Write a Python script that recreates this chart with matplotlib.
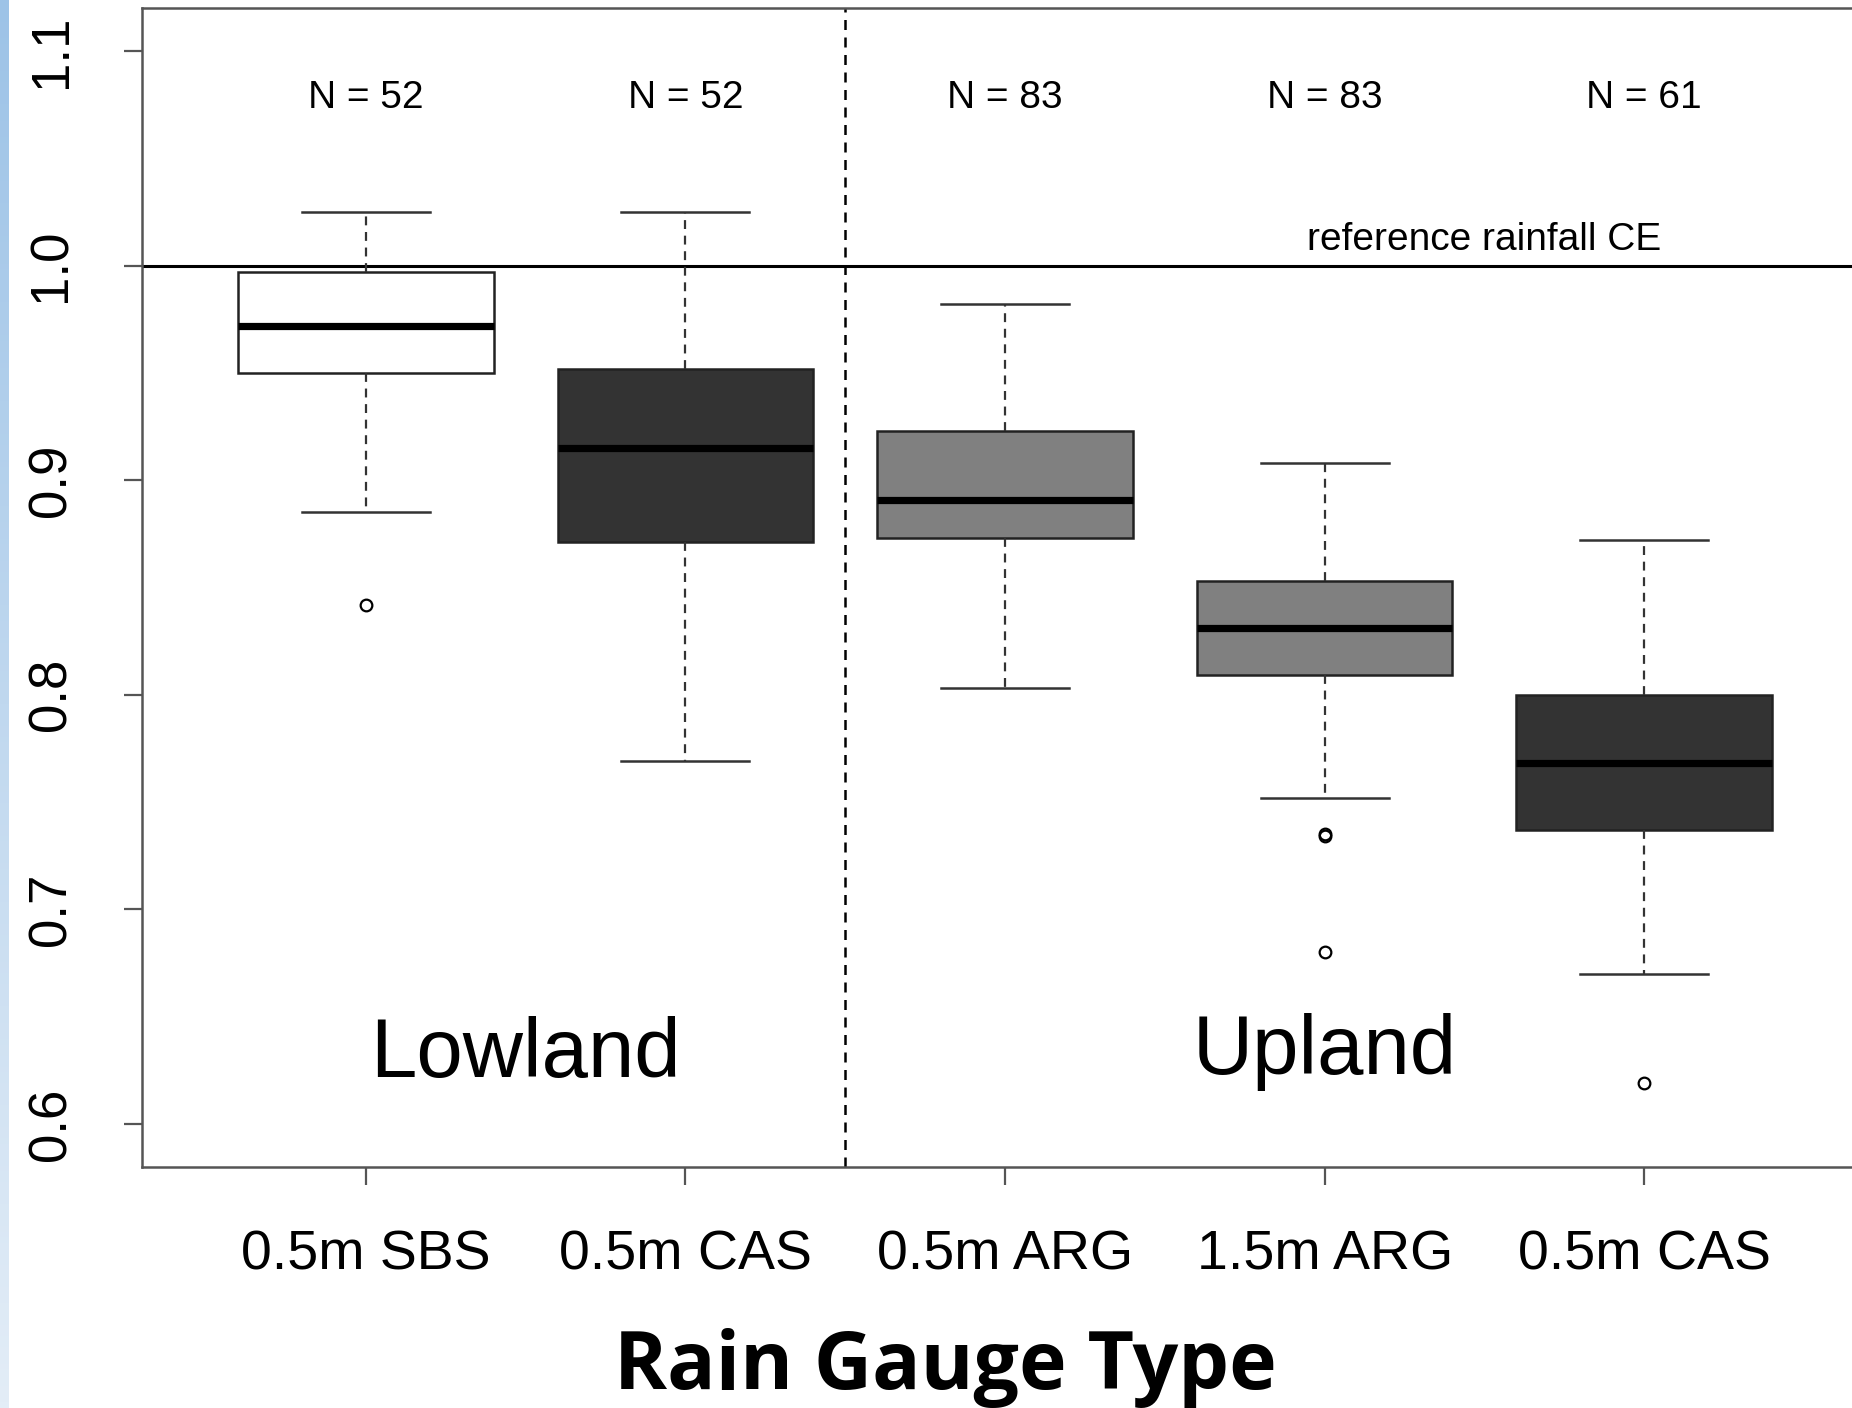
import numpy as np
import matplotlib
matplotlib.use("Agg")
import matplotlib.pyplot as plt

# ── 데이터 ──────────────────────────────────────────
gauges   = ["0.5m SBS", "0.5m CAS", "0.5m ARG", "1.5m ARG", "0.5m CAS"]
n_counts = [52, 52, 83, 83, 61]
whis_hi  = [1.025, 1.025, 0.982, 0.908, 0.872]
q3       = [0.997, 0.952, 0.923, 0.853, 0.800]
medians  = [0.972, 0.915, 0.891, 0.831, 0.768]
q1       = [0.950, 0.871, 0.873, 0.809, 0.737]
whis_lo  = [0.885, 0.769, 0.803, 0.752, 0.670]
outliers = [[0.842], [], [], [0.735, 0.734, 0.680], [0.619]]
box_fill = ["#ffffff", "#333333", "#808080", "#808080", "#333333"]

regions   = ["Lowland", "Upland"]
region_x  = [1.5, 4.0]
region_y  = [0.632, 0.6335]
reference = 1.0
split_x   = 2.5

plt.rcParams["font.family"] = ["Liberation Sans", "DejaVu Sans"]

DPI = 200
fig = plt.figure(figsize=(1852 / DPI, 1408 / DPI), dpi=DPI)

# 왼쪽 파란 그라데이션 띠
strip = fig.add_axes([0, 0, 9 / 1852, 1])
grad = np.linspace(0, 1, 256).reshape(-1, 1)
cmap = matplotlib.colors.LinearSegmentedColormap.from_list("strip", ["#9dc3e7", "#e3edf7"])
strip.imshow(grad, aspect="auto", cmap=cmap)
strip.axis("off")

ax = fig.add_axes([142 / 1852, 1 - 1167 / 1408, (1868 - 142) / 1852, (1167 - 8) / 1408])

stats = []
for i in range(len(gauges)):
    stats.append({
        "med": medians[i], "q1": q1[i], "q3": q3[i],
        "whislo": whis_lo[i], "whishi": whis_hi[i], "fliers": outliers[i],
    })

pos = np.arange(1, len(gauges) + 1)
bp = ax.bxp(
    stats, positions=pos, widths=0.8, patch_artist=True, zorder=3,
    boxprops=dict(edgecolor="#222222", linewidth=0.9),
    medianprops=dict(color="black", linewidth=2.6, solid_capstyle="butt"),
    whiskerprops=dict(color="#333333", linewidth=0.8, linestyle=(0, (4, 3))),
    capprops=dict(color="#333333", linewidth=0.9),
    capwidths=0.4,
    flierprops=dict(marker="o", markersize=4.2, markerfacecolor="none",
                    markeredgecolor="black", markeredgewidth=0.8),
)
for patch, c in zip(bp["boxes"], box_fill):
    patch.set_facecolor(c)

# 기준선 / 구분선
ax.axhline(reference, color="black", linewidth=1.1, zorder=2)
ax.axvline(split_x, color="black", linewidth=0.9, linestyle=(0, (4, 3)), zorder=2)

for x, n in zip(pos, n_counts):
    ax.text(x, 1.078, f"N = {n}", ha="center", va="center", fontsize=14)
ax.text(4.5, 1.0035, "reference rainfall CE", ha="center", va="bottom", fontsize=14)

for name, x, y in zip(regions, region_x, region_y):
    ax.text(x, y, name, ha="center", va="center", fontsize=30)

ax.set_xlim(0.3, 5.7)
ax.set_ylim(0.58, 1.12)
ax.set_yticks([0.6, 0.7, 0.8, 0.9, 1.0, 1.1])
ax.set_yticklabels(["0.6", "0.7", "0.8", "0.9", "1.0", "1.1"],
                   rotation=90, va="center", fontsize=19)
ax.set_xticks(pos)
ax.set_xticklabels(gauges, fontsize=20)
ax.tick_params(axis="both", length=6.5, width=0.8, color="#555555")
ax.tick_params(axis="y", pad=17)
ax.tick_params(axis="x", pad=16)
for s in ax.spines.values():
    s.set_color("#555555")
    s.set_linewidth(0.9)

fig.text(945 / 1852, 1 - 1368 / 1408, "Rain Gauge Type", ha="center", va="center",
         fontsize=29, fontweight="bold", family=["Open Sans", "DejaVu Sans"])

fig.savefig("out.png", dpi=DPI)
